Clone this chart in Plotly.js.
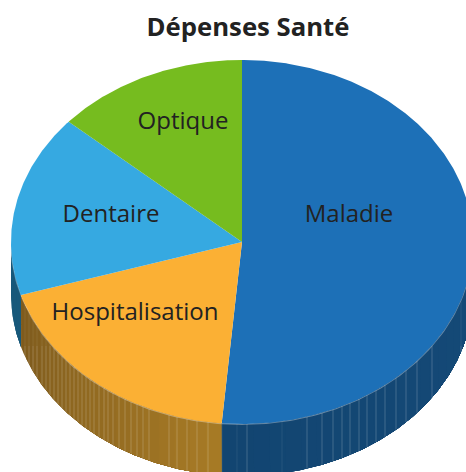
<!DOCTYPE html>
<html><head><meta charset="utf-8">
<script src="https://cdn.plot.ly/plotly-3.0.1.min.js"></script>
<style>html,body{margin:0;padding:0;background:#fff;overflow:hidden}#c{width:466px;height:472px}</style>
</head><body><div id="c"></div>
<script>
// Data
const categories = ['Maladie', 'Hospitalisation', 'Dentaire', 'Optique'];
const shares = [51.4, 18.9, 16.2, 13.5];
const titleText = 'Dépenses Santé';
// Styling
const topColors = ['#1d70b7', '#fbb034', '#36a9e1', '#76bc1f'];
const sideDark = ['#124571', '#7f5b1d', '#17587a', '#4a7a14'];
const sideLight = ['#154a78', '#a67a25', '#17587a', '#4a7a14'];
const labelXY = [[107, 26], [-107, -72], [-131, 26], [-59, 119]];
const RX = 231, RY = 182, DEPTH = 52;
const ridgeX = [-217,-213,-209,-205,-200,-196,-192,-188,-184,-180,-176,-172,-168,-164,-160,-156,-152,-148,-143,-138,-134,-129,-123,-117,-111,-105,-99,-93,-73,-65,-55,-45,-34,5,65,80,91,100,108,117,125,134,143,154,164,175,190,219];
const faintX = [-20, -5, 40];

function pt(deg, dy) {
  const r = deg * Math.PI / 180;
  return [RX * Math.sin(r), RY * Math.cos(r) - (dy || 0)];
}
function rimY(x) { return -RY * Math.sqrt(Math.max(0, 1 - (x / RX) * (x / RX))); }
function mix(a, b, t) {
  const p = c => [1, 3, 5].map(i => parseInt(c.substr(i, 2), 16));
  const A = p(a), B = p(b);
  return 'rgb(' + A.map((v, i) => Math.round(v + (B[i] - v) * t)).join(',') + ')';
}
const total = shares.reduce((s, v) => s + v, 0);
let acc = 0;
const wedges = shares.map((v, i) => { const s = acc; acc += v * 360 / total; return { i, a: s, b: acc }; });

const traces = [];
function poly(xs, ys, color) {
  traces.push({ type: 'scatter', mode: 'lines', x: xs, y: ys, fill: 'toself', fillcolor: color,
    line: { width: 0, color: color }, hoverinfo: 'skip', showlegend: false });
}
// side wall: each section paints from its start to the far end, later ones overpaint
[2, 1, 0].forEach(k => {
  const w = wedges[k];
  const a = Math.max(w.a, 90), b = Math.min(w.b, 270);
  if (b <= a) return;
  const n = Math.max(1, Math.round((b - a) / 4));
  for (let j = 0; j < n; j++) {
    const s = b - (b - a) * j / n;
    const X = [], Y = [];
    for (let d = s; d >= a - 1e-6; d -= 0.5) { const p = pt(d, 0); X.push(p[0]); Y.push(p[1]); }
    for (let d = a; d <= s + 1e-6; d += 0.5) { const p = pt(d, DEPTH); X.push(p[0]); Y.push(p[1]); }
    const t = (n > 1) ? j / (n - 1) : 0;
    poly(X, Y, mix(sideDark[k], sideLight[k], t));
  }
});
// ridges on the wall
const rx = [], ry = [], fx = [], fy = [];
ridgeX.forEach(x => {
  const y0 = rimY(x), top = Math.min(y0, -104);
  rx.push(x, x, null); ry.push(top, y0 - DEPTH, null);
  if (top < y0) { fx.push(x, x, null); fy.push(y0, top, null); }
});
faintX.forEach(x => { const y0 = rimY(x); fx.push(x, x, null); fy.push(y0, y0 - DEPTH, null); });
traces.push({ type: 'scatter', mode: 'lines', x: fx, y: fy, line: { width: 1, color: 'rgba(255,255,255,0.08)' }, hoverinfo: 'skip', showlegend: false });
traces.push({ type: 'scatter', mode: 'lines', x: rx, y: ry, line: { width: 1, color: 'rgba(255,255,255,0.2)' }, hoverinfo: 'skip', showlegend: false });
// rim highlight
const hx = [], hy = [];
for (let d = 90; d <= 270; d += 1) { const p = pt(d, 0.3); hx.push(p[0]); hy.push(p[1]); }
traces.push({ type: 'scatter', mode: 'lines', x: hx, y: hy, line: { width: 1.2, color: 'rgba(255,255,255,0.35)' }, hoverinfo: 'skip', showlegend: false });
// top face
wedges.forEach(w => {
  const X = [0], Y = [0];
  for (let d = w.a; d < w.b; d += 0.5) { const p = pt(d); X.push(p[0]); Y.push(p[1]); }
  const p = pt(w.b); X.push(p[0], 0); Y.push(p[1], 0);
  poly(X, Y, topColors[w.i]);
});
// labels
traces.push({ type: 'scatter', mode: 'text', x: labelXY.map(p => p[0]), y: labelXY.map(p => p[1]), text: categories,
  textposition: 'middle center', textfont: { family: 'Open Sans', size: 24, color: '#222222' }, hoverinfo: 'skip', showlegend: false });

Plotly.newPlot('c', traces, {
  width: 466, height: 472, margin: { l: 0, r: 0, t: 0, b: 0 },
  paper_bgcolor: '#fff', plot_bgcolor: '#fff', showlegend: false,
  title: { text: '<b>' + titleText + '</b>', x: 248 / 466, xanchor: 'center', y: 1 - 27 / 472, yanchor: 'middle', font: { family: 'Open Sans', size: 25.7, color: '#222222' } },
  xaxis: { range: [-242, 224], visible: false, fixedrange: true },
  yaxis: { range: [-230, 242], visible: false, fixedrange: true }
}, { displayModeBar: false, staticPlot: true });
</script></body></html>
